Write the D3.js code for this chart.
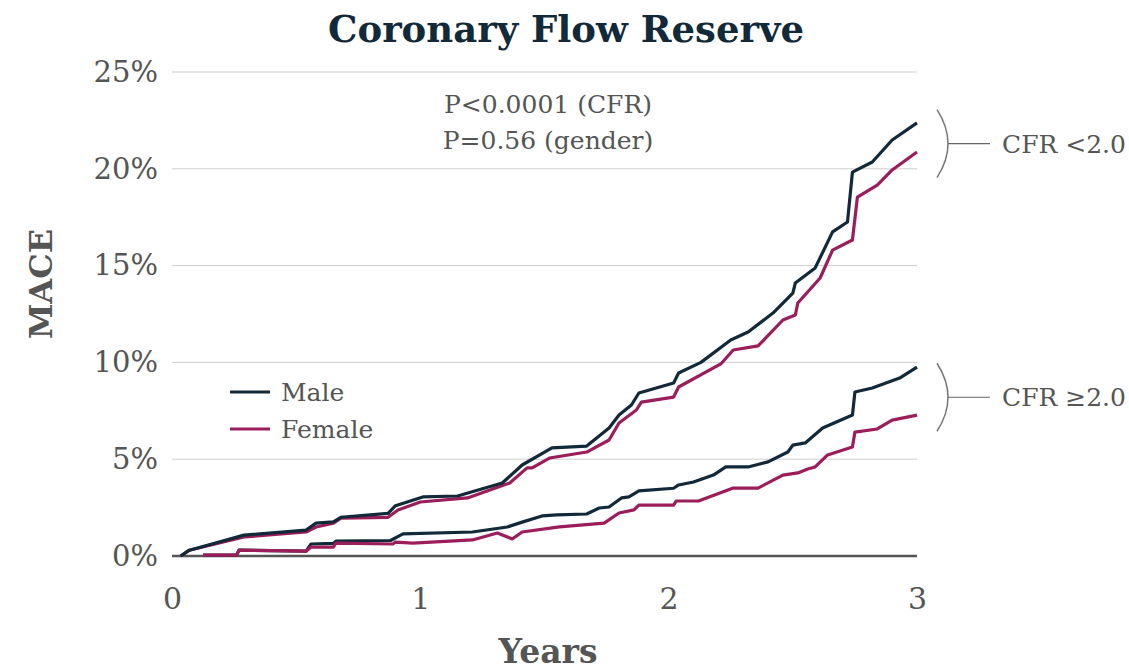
<!DOCTYPE html>
<html>
<head>
<meta charset="utf-8">
<script src="https://cdn.jsdelivr.net/npm/d3@7"></script>
<style>
  body { margin: 0; background: #fff; }
  text { font-family: Georgia, 'DejaVu Serif', serif; }
</style>
</head>
<body>
<div id="chart"></div>
<script>
// data: [years, MACE %]
var maleLow = [[0.035, 0], [0.07, 0.3], [0.29, 1.08], [0.54, 1.34], [0.58, 1.7], [0.65, 1.76], [0.68, 2.0],
  [0.87, 2.2], [0.9, 2.6], [1.01, 3.05], [1.15, 3.1], [1.33, 3.77], [1.41, 4.7], [1.53, 5.58], [1.67, 5.68],
  [1.76, 6.61], [1.8, 7.28], [1.85, 7.8], [1.88, 8.42], [2.02, 8.94], [2.04, 9.45], [2.13, 10.0], [2.25, 11.16],
  [2.32, 11.57], [2.42, 12.55], [2.5, 13.58], [2.51, 14.1], [2.59, 14.88], [2.66, 16.74], [2.72, 17.25],
  [2.74, 19.83], [2.82, 20.35], [2.9, 21.49], [3.0, 22.37]]
var femaleLow = [[0.035, 0], [0.07, 0.3], [0.29, 0.98], [0.54, 1.24], [0.58, 1.5], [0.65, 1.7], [0.68, 1.96],
  [0.87, 2.0], [0.91, 2.38], [1.0, 2.79], [1.19, 3.0], [1.36, 3.77], [1.43, 4.55], [1.45, 4.55], [1.52, 5.06],
  [1.67, 5.37], [1.76, 5.99], [1.8, 6.87], [1.87, 7.54], [1.89, 7.95], [2.02, 8.21], [2.04, 8.73], [2.21, 9.92],
  [2.26, 10.64], [2.36, 10.85], [2.46, 12.19], [2.51, 12.45], [2.52, 13.07], [2.61, 14.36], [2.66, 15.8],
  [2.74, 16.32], [2.76, 18.54], [2.84, 19.16], [2.9, 19.94], [3.0, 20.87]]
var maleHigh = [[0.125, 0.05], [0.26, 0.05], [0.27, 0.3], [0.54, 0.25], [0.56, 0.62], [0.65, 0.65], [0.66, 0.77],
  [0.88, 0.8], [0.93, 1.14], [1.21, 1.24], [1.35, 1.5], [1.41, 1.75], [1.49, 2.07], [1.55, 2.12], [1.67, 2.17],
  [1.72, 2.48], [1.76, 2.53], [1.81, 3.0], [1.84, 3.05], [1.88, 3.36], [2.02, 3.5], [2.04, 3.67], [2.1, 3.82],
  [2.18, 4.18], [2.23, 4.6], [2.32, 4.6], [2.4, 4.86], [2.48, 5.37], [2.5, 5.73], [2.55, 5.84], [2.62, 6.61],
  [2.74, 7.28], [2.75, 8.47], [2.82, 8.68], [2.93, 9.19], [3.0, 9.76]]
var femaleHigh = [[0.125, 0.05], [0.26, 0.05], [0.27, 0.3], [0.54, 0.25], [0.56, 0.46], [0.65, 0.46], [0.66, 0.67],
  [0.89, 0.62], [0.9, 0.72], [0.97, 0.67], [1.21, 0.83], [1.31, 1.19], [1.37, 0.88], [1.41, 1.24], [1.56, 1.5],
  [1.74, 1.7], [1.8, 2.22], [1.86, 2.38], [1.88, 2.63], [2.02, 2.63], [2.03, 2.84], [2.12, 2.84], [2.26, 3.51],
  [2.36, 3.51], [2.46, 4.18], [2.52, 4.29], [2.56, 4.49], [2.59, 4.6], [2.64, 5.22], [2.74, 5.63], [2.75, 6.4],
  [2.84, 6.56], [2.9, 7.02], [3.0, 7.28]]

var xTicks = [0, 1, 2, 3]
var yTicks = [0, 5, 10, 15, 20, 25]
var groupLabels = ['CFR <2.0', 'CFR \u22652.0']
var legendLabels = ['Male', 'Female']
var pLabels = ['P<0.0001 (CFR)', 'P=0.56 (gender)']

var maleColor = '#12293a'
var femaleColor = '#9b1d5a'
var textColor = '#555555'

var margin = { top: 72, left: 172, right: 212, bottom: 114 }
var width = 1129 - margin.left - margin.right
var height = 670 - margin.top - margin.bottom

var svg = d3.select('#chart')
  .append('svg')
  .attr('width', 1129)
  .attr('height', 670)

var g = svg.append('g')
  .attr('transform', 'translate(' + margin.left + ',' + margin.top + ')')

var xPositionScale = d3.scaleLinear().domain([0, 3]).range([0, width])
var yPositionScale = d3.scaleLinear().domain([0, 25]).range([height, 0])

// gridlines
g.selectAll('.grid')
  .data(yTicks.filter(d => d > 0))
  .enter()
  .append('line')
  .attr('x1', 0)
  .attr('x2', width)
  .attr('y1', d => yPositionScale(d))
  .attr('y2', d => yPositionScale(d))
  .attr('stroke', '#cfcfcf')
  .attr('stroke-width', 1)

// y axis labels
var yAxis = d3.axisLeft(yPositionScale)
  .tickValues(yTicks)
  .tickSize(0)
  .tickPadding(14)
  .tickFormat(d => d + '%')
g.append('g')
  .attr('class', 'axis y-axis')
  .call(yAxis)
  .call(a => a.select('.domain').remove())
  .selectAll('text')
  .attr('font-size', 29)
  .attr('fill', textColor)
  .attr('font-family', "Georgia, 'DejaVu Serif', serif")

// x axis labels
var xAxis = d3.axisBottom(xPositionScale)
  .tickValues(xTicks)
  .tickSize(0)
  .tickPadding(32)
  .tickFormat(d3.format('d'))
g.append('g')
  .attr('class', 'axis x-axis')
  .attr('transform', 'translate(0,' + height + ')')
  .call(xAxis)
  .call(a => a.select('.domain').remove())
  .selectAll('text')
  .attr('font-size', 30)
  .attr('fill', textColor)
  .attr('font-family', "Georgia, 'DejaVu Serif', serif")

// baseline
g.append('line')
  .attr('x1', 0)
  .attr('x2', width)
  .attr('y1', yPositionScale(0))
  .attr('y2', yPositionScale(0))
  .attr('stroke', '#555')
  .attr('stroke-width', 2.5)

var line = d3.line()
  .x(d => xPositionScale(d[0]))
  .y(d => yPositionScale(d[1]))

var series = [
  { values: maleHigh, color: maleColor },
  { values: femaleHigh, color: femaleColor },
  { values: femaleLow, color: femaleColor },
  { values: maleLow, color: maleColor }
]

g.selectAll('.curve')
  .data(series)
  .enter()
  .append('path')
  .attr('class', 'curve')
  .attr('d', d => line(d.values))
  .attr('fill', 'none')
  .attr('stroke', d => d.color)
  .attr('stroke-width', 3.2)
  .attr('stroke-linejoin', 'round')

// brackets for the two CFR groups
var bracketMid = [21.3, 8.2]
bracketMid.forEach(function(m, i) {
  var cy = yPositionScale(m)
  var bx = width + 20
  g.append('path')
    .attr('d', 'M' + bx + ',' + (cy - 34) + ' Q' + (bx + 22) + ',' + cy + ' ' + bx + ',' + (cy + 34))
    .attr('fill', 'none')
    .attr('stroke', '#777')
    .attr('stroke-width', 1.5)
  g.append('line')
    .attr('x1', bx + 11)
    .attr('x2', bx + 53)
    .attr('y1', cy)
    .attr('y2', cy)
    .attr('stroke', '#666')
    .attr('stroke-width', 1.2)
  g.append('text')
    .text(groupLabels[i])
    .attr('x', bx + 65)
    .attr('y', cy + 9)
    .attr('font-size', 25)
    .attr('fill', textColor)
})

// p-values
g.selectAll('.pval')
  .data(pLabels)
  .enter()
  .append('text')
  .text(d => d)
  .attr('x', 376)
  .attr('y', (d, i) => 41 + i * 36)
  .attr('text-anchor', 'middle')
  .attr('font-size', 25)
  .attr('fill', textColor)

// legend
var legend = g.selectAll('.legend')
  .data(legendLabels)
  .enter()
  .append('g')
  .attr('transform', (d, i) => 'translate(58,' + (320 + i * 37) + ')')
legend.append('line')
  .attr('x1', 0)
  .attr('x2', 40)
  .attr('stroke', (d, i) => i === 0 ? maleColor : femaleColor)
  .attr('stroke-width', 3.2)
legend.append('text')
  .text(d => d)
  .attr('x', 51)
  .attr('y', 9)
  .attr('font-size', 25)
  .attr('fill', textColor)

// titles
svg.append('text')
  .text('Coronary Flow Reserve')
  .attr('x', 566)
  .attr('y', 42)
  .attr('text-anchor', 'middle')
  .attr('font-size', 37)
  .attr('font-weight', 'bold')
  .attr('fill', maleColor)

svg.append('text')
  .text('Years')
  .attr('x', 548)
  .attr('y', 663)
  .attr('text-anchor', 'middle')
  .attr('font-size', 33)
  .attr('font-weight', 'bold')
  .attr('fill', textColor)

svg.append('text')
  .text('MACE')
  .attr('transform', 'translate(52,284) rotate(-90)')
  .attr('text-anchor', 'middle')
  .attr('font-size', 32)
  .attr('font-weight', 'bold')
  .attr('fill', textColor)
</script>
</body>
</html>
